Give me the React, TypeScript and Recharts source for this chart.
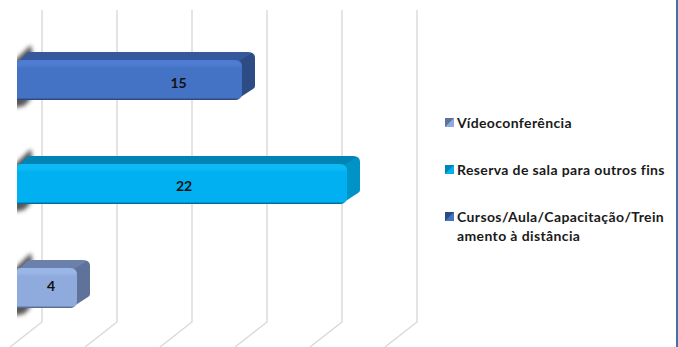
import React from "react";
import { BarChart, Bar, XAxis, YAxis, CartesianGrid, Legend, LabelList } from "recharts";

const categories = ["Cursos", "Reserva", "Vídeo"];
const cursosValues = [15, null, null];
const reservaValues = [null, 22, null];
const videoValues = [null, null, 4];
const axisTicks = [0, 5, 10, 15, 20, 25];
const cursosName = "Cursos/Aula/Capacitação/Treinamento à distância";
const reservaName = "Reserva de sala para outros fins";
const videoName = "Vídeoconferência";

const data = categories.map((category, i) => ({
  category,
  cursos: cursosValues[i],
  reserva: reservaValues[i],
  video: videoValues[i],
}));

const cursosTone = { id: "c", front: "#4472c4", bevel: "#4d7cd2", top: "#35599a", side: "#2d4c85", edge: "#2c4a80" };
const reservaTone = { id: "r", front: "#00b0f0", bevel: "#0cbaf6", top: "#0084b4", side: "#0093c8", edge: "#006f96" };
const videoTone = { id: "v", front: "#8faadc", bevel: "#9ab6e6", top: "#6b80aa", side: "#5f7299", edge: "#5a6d94" };

const FONT = "Lato, 'Open Sans', sans-serif";
const DX = 13;
const DY = 8;

const Bar3D = (tone: typeof cursosTone) => (props: any) => {
  const { x, y, width: w, height: h } = props;
  if (!w || w <= 0) return <g />;
  const r = x + w;
  const g = `grad-${tone.id}`;
  return (
    <g>
      <defs>
        <linearGradient id={g} x1="0" y1="0" x2="0" y2="1">
          <stop offset="0" stopColor={tone.bevel} />
          <stop offset="0.12" stopColor={tone.bevel} />
          <stop offset="0.2" stopColor={tone.front} />
          <stop offset="0.95" stopColor={tone.front} />
          <stop offset="0.98" stopColor={tone.edge} />
          <stop offset="1" stopColor={tone.edge} />
        </linearGradient>
        <filter id={`blur-${tone.id}`} x="-50%" y="-50%" width="200%" height="200%">
          <feGaussianBlur stdDeviation="2.2" />
        </filter>
        <clipPath id={`clip-${tone.id}`}>
          <rect x={x} y={y - 30} width={40} height={h + 60} />
        </clipPath>
      </defs>
      <g clipPath={`url(#clip-${tone.id})`}>
        <path
          d={`M${x - 4},${y + 2} L${x + 14},${y - 15} L${x + 15},${y - 8} L${x + 13},${y + h} L${x + 7},${y + h + 6} L${x - 4},${y + h + 8} Z`}
          fill="#3a3a3a"
          opacity={0.85}
          filter={`url(#blur-${tone.id})`}
        />
      </g>
      <path
        d={`M${x},${y + 3} L${x + 10},${y - DY + 1} Q${x + 11},${y - DY} ${x + 14},${y - DY} L${r + DX - 7},${y - DY} Q${r + DX - 3},${y - DY} ${r + DX - 2},${y - DY + 2} L${r - 4},${y + 3} Z`}
        fill={tone.top}
      />
      <path
        d={`M${r - 6},${y + 3} L${r + DX - 3},${y - DY + 1} Q${r + DX},${y - DY + 2} ${r + DX},${y - DY + 6} L${r + DX},${y + h - 14} Q${r + DX},${y + h - 12} ${r + DX - 2},${y + h - 11} L${r - 6},${y + h} Z`}
        fill={tone.side}
      />
      <path
        d={`M${x},${y + 3} Q${x},${y} ${x + 3},${y} L${r - 7},${y} Q${r},${y} ${r},${y + 7} L${r},${y + h - 7} Q${r},${y + h} ${r - 7},${y + h} L${x},${y + h} Z`}
        fill={`url(#${g})`}
      />
    </g>
  );
};

const gridLine = (props: any) => {
  const { x1, y1, y2, key } = props;
  return (
    <path
      key={key ?? x1}
      d={`M${x1 + 25},${y1 - 18} L${x1 + 25},${y2 - 18} L${x1 - 7},${y2 + 7}`}
      fill="none"
      stroke="#d9d9d9"
      strokeWidth={1.4}
    />
  );
};

const markerBackground: Record<string, string> = {
  [cursosName]: "linear-gradient(135deg,#2c4a80 0%,#2c4a80 45%,#4472c4 55%,#4472c4 100%)",
  [reservaName]: "linear-gradient(135deg,#0084b4 0%,#0084b4 45%,#00b0f0 55%,#00b0f0 100%)",
  [videoName]: "linear-gradient(135deg,#5f7299 0%,#5f7299 45%,#8faadc 55%,#8faadc 100%)",
};

const LegendBox = (props: any) => {
  const items = [...(props.payload ?? [])].reverse();
  return (
    <div style={{ fontFamily: FONT, fontWeight: 700, fontSize: 14, letterSpacing: 0.38, lineHeight: "19px", color: "#1a1a1a" }}>
      {items.map((it: any) => (
        <div key={it.value} style={{ display: "flex", alignItems: "flex-start", marginBottom: 28 }}>
          <span
            style={{
              width: 9,
              height: 9,
              marginTop: 5,
              marginRight: 3,
              flex: "none",
              background: markerBackground[it.value],
            }}
          />
          <span style={{ width: 212, wordBreak: "break-all" }}>{it.value}</span>
        </div>
      ))}
    </div>
  );
};

const labelStyle = { fontFamily: FONT, fontWeight: 700, fontSize: 14, fill: "#111" };

export default function App() {
  return (
    <div style={{ position: "absolute", left: 0, top: 0, width: 678, height: 347, background: "#fff", overflow: "hidden" }}>
      <BarChart
        width={678}
        height={347}
        data={data}
        layout="vertical"
        margin={{ top: 28, right: 286, bottom: 7, left: 17 }}
        barSize={40}
      >
        <CartesianGrid horizontal={false} vertical={gridLine} />
        <XAxis type="number" domain={[0, 25]} ticks={axisTicks} hide />
        <YAxis type="category" dataKey="category" hide />
        <Legend
          layout="vertical"
          align="center"
          verticalAlign="middle"
          content={<LegendBox />}
          wrapperStyle={{ left: 445, top: 113, width: 230 }}
        />
        <Bar dataKey="cursos" name={cursosName} stackId="a" fill={cursosTone.front} shape={Bar3D(cursosTone)} isAnimationActive={false}>
          <LabelList dataKey="cursos" position="center" dx={49} dy={3} style={labelStyle} />
        </Bar>
        <Bar dataKey="reserva" name={reservaName} stackId="a" fill={reservaTone.front} shape={Bar3D(reservaTone)} isAnimationActive={false}>
          <LabelList dataKey="reserva" position="center" dx={2} dy={2} style={labelStyle} />
        </Bar>
        <Bar dataKey="video" name={videoName} stackId="a" fill={videoTone.front} shape={Bar3D(videoTone)} isAnimationActive={false}>
          <LabelList dataKey="video" position="center" dx={4} dy={-2} style={labelStyle} />
        </Bar>
      </BarChart>
      <div style={{ position: "absolute", right: 0, top: 0, width: 2, height: 347, background: "#4472a8" }} />
    </div>
  );
}
